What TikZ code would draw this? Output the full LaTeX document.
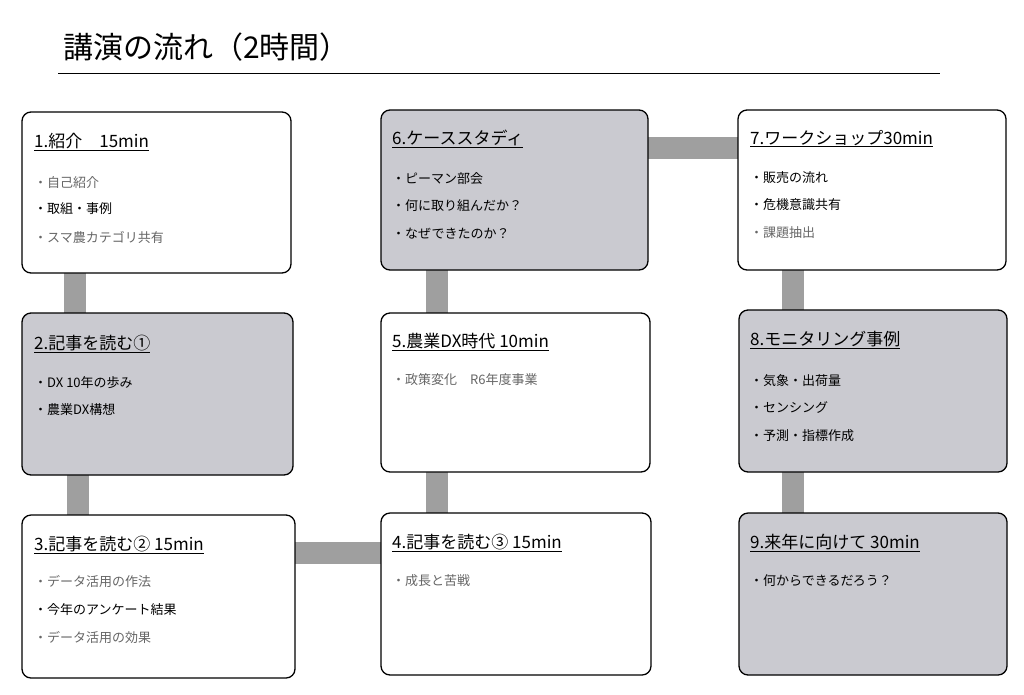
\documentclass[tikz,border=0pt]{standalone}
\usepackage{fontspec}
\setmainfont{Noto Sans CJK JP}
\begin{document}
\begin{tikzpicture}[x=1pt,y=-1pt,
  card/.style={draw=black,line width=1.3pt,rounded corners=9pt},
  wcard/.style={card,fill=white},
  gcard/.style={card,fill=gray!35!blue!4!white!82!black},
  bar/.style={fill=gray!75},
  head/.style={anchor=base west,font=\fontsize{17}{17}\selectfont,inner sep=0pt},
  item/.style={anchor=base west,font=\fontsize{13}{13}\selectfont,text=black!60,inner sep=0pt},
  bitem/.style={item,text=black}]
\useasboundingbox (0,0) rectangle (1024,694);
\fill[white] (0,0) rectangle (1024,694);
\node[anchor=base west,inner sep=0pt,font=\fontsize{30}{30}\selectfont] (title) at (63,58) {講演の流れ（2時間）};
\draw[line width=0.8pt] (58,73) -- (940,73);
% bars
\fill[bar] (64,270) rectangle (86,316);
\fill[bar] (67,472) rectangle (89,518);
\fill[bar] (292,542) rectangle (384,564);
\fill[bar] (426,470) rectangle (448,516);
\fill[bar] (426,268) rectangle (448,316);
\fill[bar] (645,137) rectangle (741,159);
\fill[bar] (782,268) rectangle (804,313);
\fill[bar] (782,470) rectangle (804,516);
% boxes
\draw[wcard] (22,112) rectangle (291,273) node[pos=0] (b1) {};
\draw[gcard] (22,313) rectangle (293,475) node[pos=0] (b2) {};
\draw[wcard] (22,515) rectangle (295,678) node[pos=0] (b3) {};
\draw[gcard] (381,110) rectangle (648,270) node[pos=0] (b6) {};
\draw[wcard] (381,313) rectangle (650,472) node[pos=0] (b5) {};
\draw[wcard] (381,513) rectangle (651,675) node[pos=0] (b4) {};
\draw[wcard] (738,110) rectangle (1006,270) node[pos=0] (b7) {};
\draw[gcard] (739,310) rectangle (1007,472) node[pos=0] (b8) {};
\draw[gcard] (739,513) rectangle (1007,675) node[pos=0] (b9) {};
% texts
\node[head] (h1) at (34,147) {\underline{1.紹介\quad 15min}};
\node[item] (i11) at (34,187) {・自己紹介};
\node[bitem] (i12) at (34,213) {・取組・事例};
\node[item] (i13) at (34,242) {・スマ農カテゴリ共有};
\node[head] (h2) at (34,349) {\underline{2.記事を読む①}};
\node[bitem] (i21) at (34,387) {・DX 10年の歩み};
\node[bitem] (i22) at (34,414) {・農業DX構想};
\node[head] (h3) at (34,550) {\underline{3.記事を読む② 15min}};
\node[item] (i31) at (34,586) {・データ活用の作法};
\node[bitem] (i32) at (34,614) {・今年のアンケート結果};
\node[item] (i33) at (34,642) {・データ活用の効果};
\node[head] (h6) at (392,144) {\underline{6.ケーススタディ}};
\node[bitem] (i61) at (392,183) {・ピーマン部会};
\node[bitem] (i62) at (392,210) {・何に取り組んだか？};
\node[bitem] (i63) at (392,238) {・なぜできたのか？};
\node[head] (h5) at (392,347) {\underline{5.農業DX時代 10min}};
\node[item] (i51) at (392,384) {・政策変化\quad R6年度事業};
\node[head] (h4) at (392,548) {\underline{4.記事を読む③ 15min}};
\node[item] (i41) at (392,585) {・成長と苦戦};
\node[head] (h7) at (750,144) {\underline{7.ワークショップ30min}};
\node[bitem] (i71) at (750,182) {・販売の流れ};
\node[bitem] (i72) at (750,209) {・危機意識共有};
\node[item] (i73) at (750,237) {・課題抽出};
\node[head] (h8) at (750,345) {\underline{8.モニタリング事例}};
\node[bitem] (i81) at (750,385) {・気象・出荷量};
\node[bitem] (i82) at (750,412) {・センシング};
\node[bitem] (i83) at (750,440) {・予測・指標作成};
\node[head] (h9) at (750,548) {\underline{9.来年に向けて 30min}};
\node[bitem] (i91) at (750,585) {・何からできるだろう？};
\end{tikzpicture}
\end{document}
